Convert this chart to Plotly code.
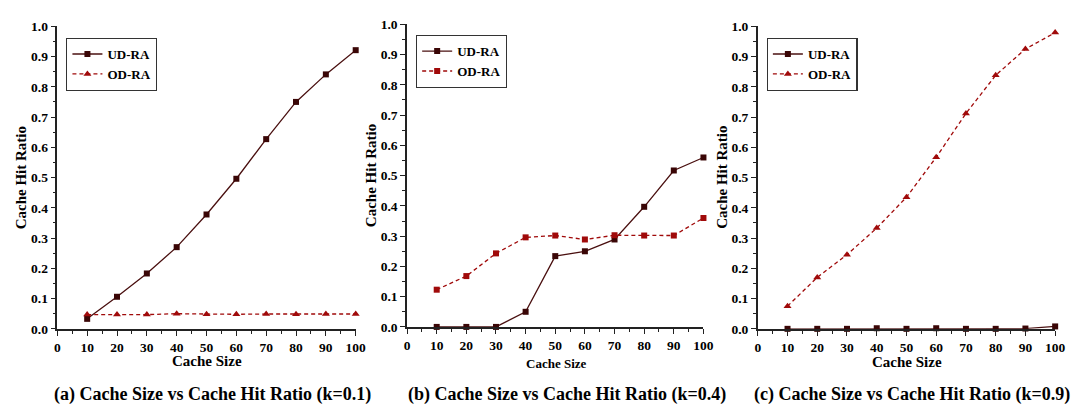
import plotly.graph_objects as go

cache_size = [10, 20, 30, 40, 50, 60, 70, 80, 90, 100]

# (a) k=0.1
ud_a = [0.033, 0.106, 0.183, 0.270, 0.378, 0.496, 0.627, 0.750, 0.841, 0.921]
od_a = [0.047, 0.047, 0.047, 0.050, 0.048, 0.048, 0.049, 0.048, 0.049, 0.049]
# (b) k=0.4
ud_b = [0.0, 0.0, 0.0, 0.050, 0.234, 0.250, 0.289, 0.397, 0.517, 0.560]
od_b = [0.123, 0.168, 0.243, 0.296, 0.302, 0.289, 0.303, 0.302, 0.302, 0.360]
# (c) k=0.9
ud_c = [0.0, 0.0, 0.0, 0.002, 0.0, 0.002, 0.0, 0.0, 0.001, 0.008]
od_c = [0.075, 0.170, 0.245, 0.333, 0.435, 0.567, 0.712, 0.838, 0.925, 0.979]

series_names = ["UD-RA", "OD-RA"]
captions = [
    "(a) Cache Size vs Cache Hit Ratio (k=0.1)",
    "(b) Cache Size vs Cache Hit Ratio (k=0.4)",
    "(c) Cache Size vs Cache Hit Ratio (k=0.9)",
]
x_title = "Cache Size"
y_title = "Cache Hit Ratio"

UD_COLOR = "#3a0606"
UD_LINE = "#4a1010"
OD_COLOR = "#a00a0a"
FONT = "Liberation Serif, Times New Roman, serif"

W, H = 1078, 412


def px(x):
    return x / W


def py(y):
    return 1 - y / H


# pixel geometry of each panel: (left, right, top, bottom)
panels = [(55, 357, 20, 334), (409, 709, 18, 332), (764, 1065, 20, 334)]
od_symbols = ["triangle-up", "square", "triangle-up"]
data = [(ud_a, od_a), (ud_b, od_b), (ud_c, od_c)]
legend_pos = [(64, 32), (418, 29), (773, 32)]
xtitle_pos = [(206, 367, 15), (560, 370, 13), (915, 368, 15)]
ytitle_x = [18, 372, 727]
caption_pos = [(212, 402), (571, 402), (920, 402)]

fig = go.Figure()
legend_keys = ["legend", "legend2", "legend3"]

for i, ((ud, od), (l, r, t, b)) in enumerate(zip(data, panels)):
    xa = "x" if i == 0 else f"x{i+1}"
    ya = "y" if i == 0 else f"y{i+1}"
    fig.add_trace(go.Scatter(
        x=cache_size, y=ud, name=series_names[0], mode="lines+markers",
        line=dict(color=UD_LINE, width=1.3),
        marker=dict(symbol="square", size=6, color=UD_COLOR),
        xaxis=xa, yaxis=ya, legend=legend_keys[i], cliponaxis=False))
    fig.add_trace(go.Scatter(
        x=cache_size, y=od, name=series_names[1], mode="lines+markers",
        line=dict(color=OD_COLOR, width=1.3, dash="4px,3px"),
        marker=dict(symbol=od_symbols[i], size=7 if i != 1 else 6, color=OD_COLOR),
        xaxis=xa, yaxis=ya, legend=legend_keys[i], cliponaxis=False))

    axis_common = dict(
        showline=True, linecolor="#222222", linewidth=1.5,
        ticks="outside", ticklen=5, tickwidth=1.2, tickcolor="#222222",
        showgrid=False, zeroline=False, mirror=False,
        tickfont=dict(family=FONT, size=13.5, color="black", weight="bold"),
    )
    fig.layout[("xaxis" if i == 0 else f"xaxis{i+1}")] = dict(
        axis_common, domain=[px(l), px(r)], range=[0, 100], anchor=ya,
        tickmode="linear", tick0=0, dtick=10,
        minor=dict(ticks="outside", ticklen=3, dtick=5, tickcolor="#222222", tickwidth=1),
    )
    fig.layout[("yaxis" if i == 0 else f"yaxis{i+1}")] = dict(
        axis_common, domain=[py(b), py(t)], range=[0, 1], anchor=xa,
        tickmode="linear", tick0=0, dtick=0.1, tickformat=".1f",
        minor=dict(ticks="outside", ticklen=3, dtick=0.05, tickcolor="#222222", tickwidth=1),
    )

    lx, ly = legend_pos[i]
    fig.layout[legend_keys[i]] = dict(
        x=px(lx), y=py(ly), xanchor="left", yanchor="top",
        bordercolor="#333333", borderwidth=1.2, bgcolor="white",
        font=dict(family=FONT, size=13, color="black", weight="bold"),
        tracegroupgap=0, itemwidth=30,
    )

annotations = []
for i in range(3):
    cx, cy, fs = xtitle_pos[i]
    annotations.append(dict(
        text=x_title, x=px(cx), y=py(cy), xref="paper", yref="paper",
        showarrow=False, xanchor="center", yanchor="middle",
        font=dict(family=FONT, size=fs, color="black", weight="bold")))
    t, b = panels[i][2], panels[i][3]
    annotations.append(dict(
        text=y_title, x=px(ytitle_x[i]), y=py((t + b) / 2),
        xref="paper", yref="paper", showarrow=False, textangle=-90,
        xanchor="center", yanchor="middle",
        font=dict(family=FONT, size=15, color="black", weight="bold")))
    cx, cy = caption_pos[i]
    annotations.append(dict(
        text=captions[i], x=px(cx), y=py(cy), xref="paper", yref="paper",
        showarrow=False, xanchor="center", yanchor="middle",
        font=dict(family=FONT, size=18, color="black", weight="bold")))

fig.update_layout(
    width=W, height=H, margin=dict(l=0, r=0, t=0, b=0),
    paper_bgcolor="white", plot_bgcolor="white",
    annotations=annotations,
    font=dict(family=FONT),
)

fig.write_html("out.html")
